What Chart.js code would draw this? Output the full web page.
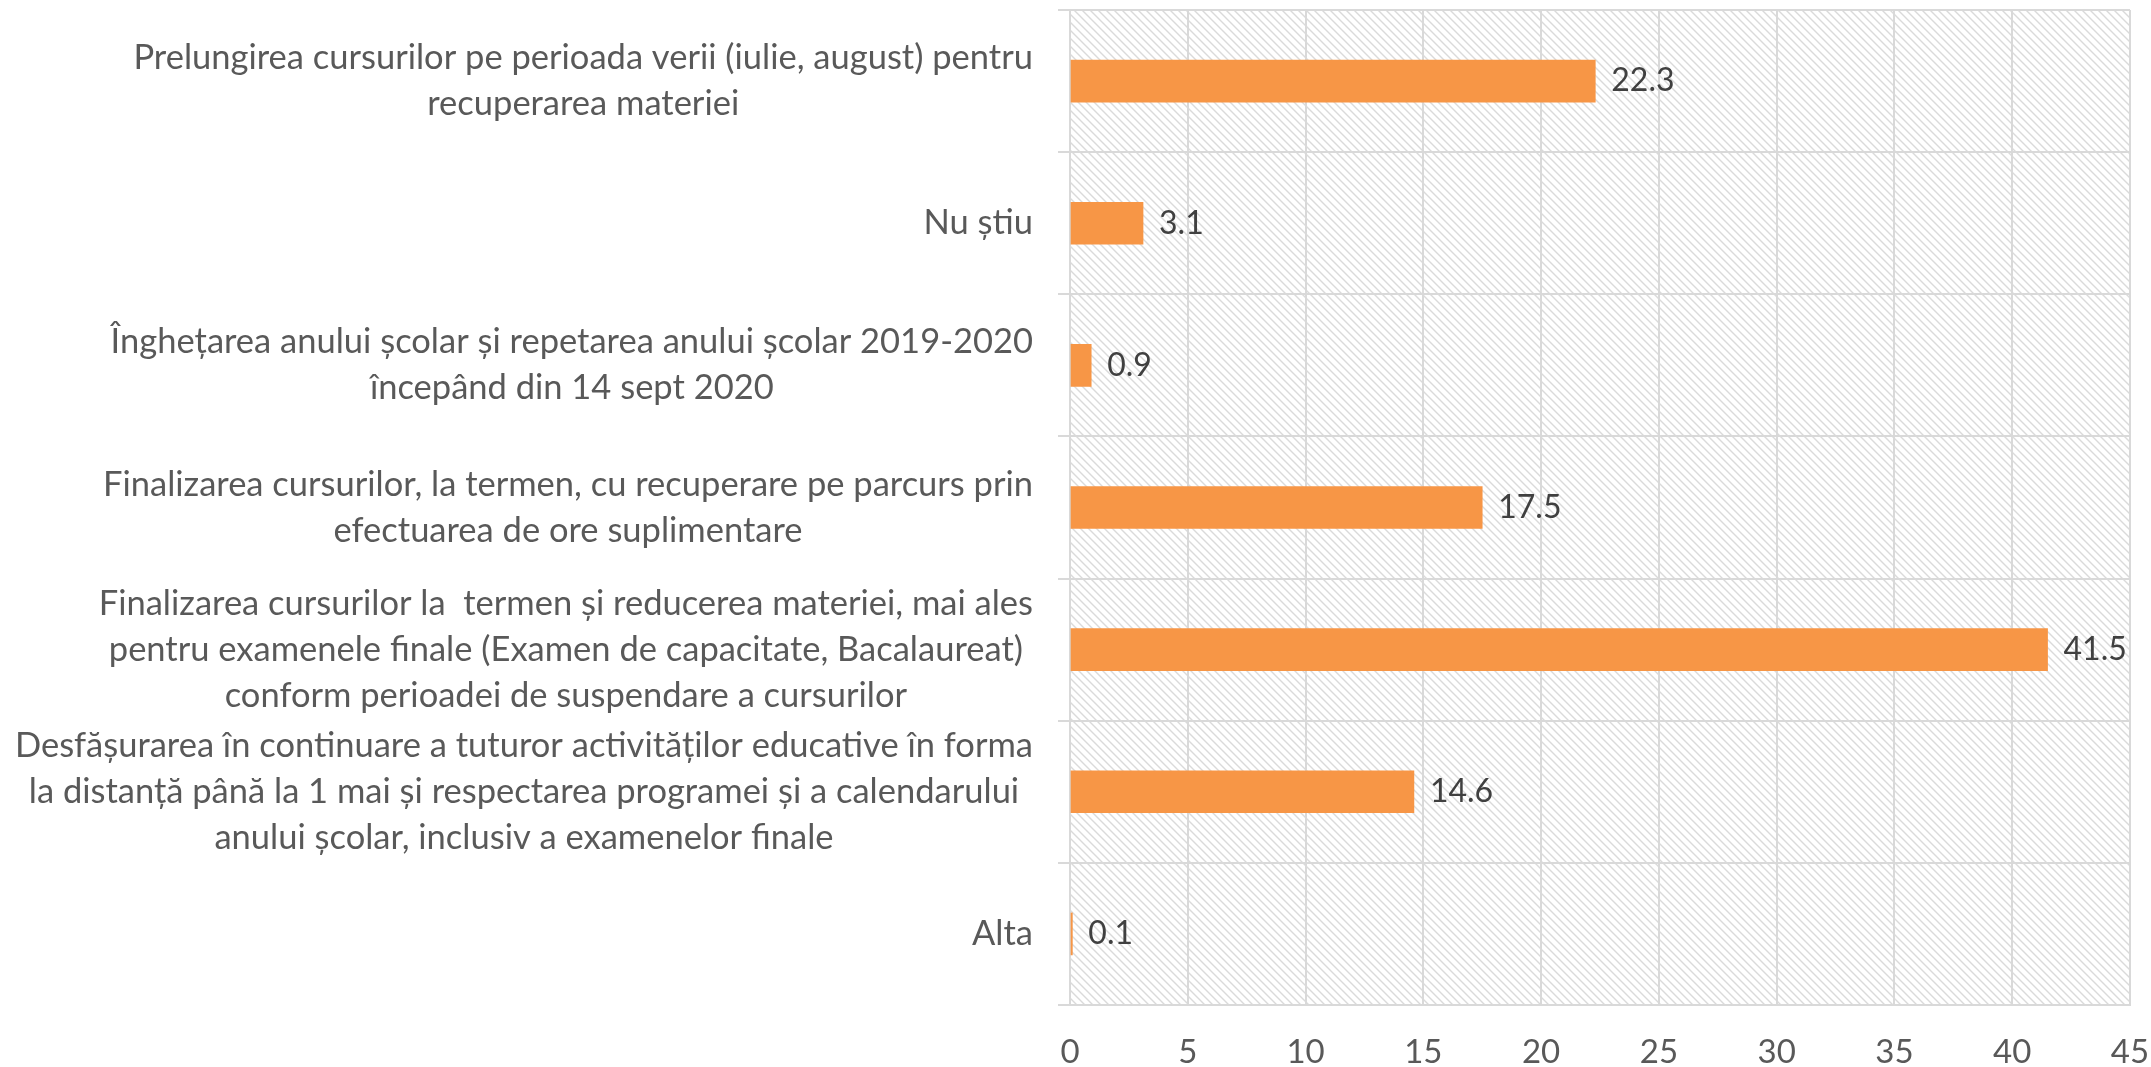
<!DOCTYPE html>
<html>
<head>
<meta charset="utf-8">
<script src="https://cdn.jsdelivr.net/npm/chart.js@4.4.1/dist/chart.umd.min.js"></script>
<style>
  html, body { margin: 0; padding: 0; background: #fff; }
  #wrap { width: 2151px; height: 1067px; }
</style>
</head>
<body>
<div id="wrap"><canvas id="canvas" width="2151" height="1067"></canvas></div>
<script>
// categories, top to bottom
const categories = [
    ["Prelungirea cursurilor pe perioada verii (iulie, august) pentru", "recuperarea materiei"],
    ["Nu știu"],
    ["Înghețarea anului școlar și repetarea anului școlar 2019-2020", "începând din 14 sept 2020"],
    ["Finalizarea cursurilor, la termen, cu recuperare pe parcurs prin", "efectuarea de ore suplimentare"],
    ["Finalizarea cursurilor la  termen și reducerea materiei, mai ales", "pentru examenele finale (Examen de capacitate, Bacalaureat)", "conform perioadei de suspendare a cursurilor"],
    ["Desfășurarea în continuare a tuturor activităților educative în forma", "la distanță până la 1 mai și respectarea programei și a calendarului", "anului școlar, inclusiv a examenelor finale"],
    ["Alta"]
]
const values = [22.3, 3.1, 0.9, 17.5, 41.5, 14.6, 0.1]
const xTicks = [0, 5, 10, 15, 20, 25, 30, 35, 40, 45]

const FONT = "Lato, 'Open Sans', sans-serif"
const gridColor = "#d9d9d9"

// diagonal hatch for the plot area
function hatch() {
    const c = document.createElement("canvas")
    c.width = 8
    c.height = 8
    const g = c.getContext("2d")
    g.strokeStyle = "#dadada"
    g.lineWidth = 1.4
    g.beginPath()
    g.moveTo(-1, -1); g.lineTo(9, 9)
    g.moveTo(-1, 7); g.lineTo(1, 9)
    g.moveTo(7, -1); g.lineTo(9, 1)
    g.stroke()
    return g.createPattern(c, "repeat")
}

const hatchBg = {
    id: "hatchBg",
    beforeDraw(chart) {
        const a = chart.chartArea
        const ctx = chart.ctx
        ctx.save()
        ctx.fillStyle = hatch()
        ctx.fillRect(a.left, a.top, a.right - a.left, a.bottom - a.top)
        ctx.restore()
    }
}

const valueLabels = {
    id: "valueLabels",
    afterDatasetsDraw(chart) {
        const ctx = chart.ctx
        ctx.save()
        ctx.font = "32px " + FONT
        ctx.fillStyle = "#404040"
        ctx.textBaseline = "middle"
        ctx.textAlign = "left"
        chart.getDatasetMeta(0).data.forEach((bar, i) => {
            ctx.fillText(values[i].toFixed(1), bar.x + 16, bar.y)
        })
        ctx.restore()
    }
}

// excel-like category labels: block right aligned, lines centred
const catLabels = {
    id: "catLabels",
    afterDraw(chart) {
        const ctx = chart.ctx
        const y = chart.scales.y
        const right = chart.chartArea.left - 37
        const lh = 46
        ctx.save()
        ctx.font = "34.5px " + FONT
        ctx.fillStyle = "#595959"
        ctx.textBaseline = "middle"
        ctx.textAlign = "center"
        categories.forEach((lines, i) => {
            const w = Math.max(...lines.map(l => ctx.measureText(l).width))
            const cx = right - w / 2
            const cy = y.getPixelForValue(i)
            const y0 = cy - (lines.length - 1) * lh / 2
            lines.forEach((l, k) => ctx.fillText(l, cx, y0 + k * lh))
        })
        ctx.restore()
    }
}

new Chart(document.getElementById("canvas"), {
    type: "bar",
    data: {
        labels: categories,
        datasets: [{
            data: values,
            backgroundColor: "#f79646",
            borderWidth: 0,
            barThickness: 42,
        }]
    },
    options: {
        indexAxis: "y",
        responsive: false,
        animation: false,
        layout: { padding: { top: 10, right: 21, bottom: 0, left: 0 } },
        plugins: {
            legend: { display: false },
            tooltip: { enabled: false },
        },
        scales: {
            x: {
                min: 0,
                max: 45,
                afterBuildTicks(scale) {
                    scale.ticks = xTicks.map(v => ({ value: v }))
                },
                afterFit(scale) { scale.height = 62 },
                grid: { color: gridColor, lineWidth: 2, drawTicks: true, tickLength: 28, tickColor: "rgba(0,0,0,0)" },
                border: { color: gridColor, width: 2 },
                ticks: {
                    color: "#595959",
                    font: { family: FONT, size: 33 },
                    padding: 0,
                    maxRotation: 0,
                },
            },
            y: {
                afterFit(scale) { scale.width = 1070 },
                grid: { color: gridColor, lineWidth: 2, offset: true, tickLength: 12 },
                border: { color: gridColor, width: 2 },
                ticks: { display: false },
            }
        }
    },
    plugins: [hatchBg, valueLabels, catLabels]
})
</script>
</body>
</html>
